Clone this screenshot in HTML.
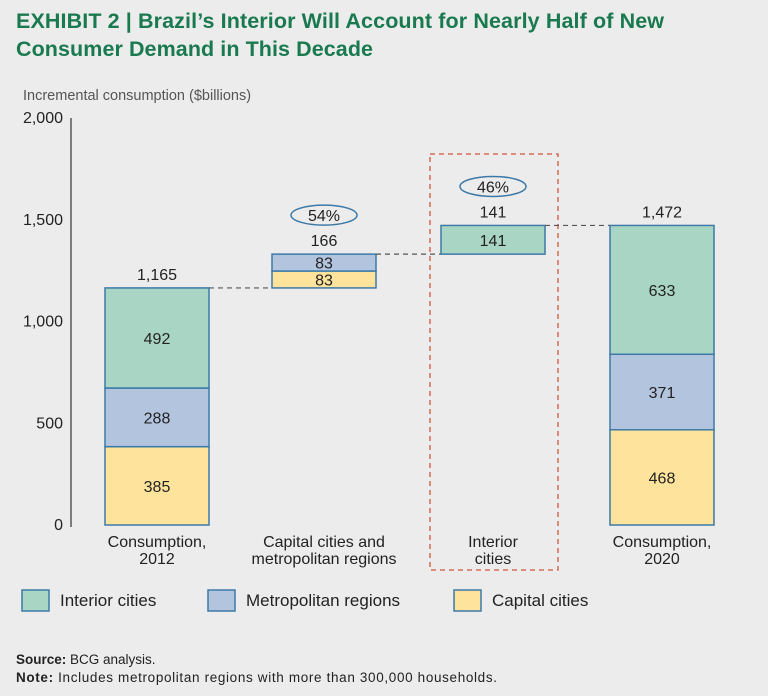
<!DOCTYPE html>
<html><head><meta charset="utf-8"><style>
body{margin:0;background:#ececec;font-family:"Liberation Sans",sans-serif;}
#wrap{position:relative;width:768px;height:696px;background:#ececec;overflow:hidden}
</style></head><body>
<div id="wrap">
<svg id="chart" width="768" height="696" xmlns="http://www.w3.org/2000/svg">
<text x="16" y="28" font-size="21.5" font-weight="bold" fill="#1a7a4f" textLength="648">EXHIBIT 2 | Brazil’s Interior Will Account for Nearly Half of New</text>
<text x="16" y="56" font-size="21.5" font-weight="bold" fill="#1a7a4f" textLength="357">Consumer Demand in This Decade</text>
<text x="23" y="100" font-size="14.5" fill="#555">Incremental consumption ($billions)</text>
<g id="axis"></g><g id="bars"></g>
<text x="16" y="664" font-size="13.5" fill="#222"><tspan font-weight="bold">Source:</tspan> BCG analysis.</text>
<text x="16" y="682" font-size="13.5" fill="#222" textLength="481"><tspan font-weight="bold">Note:</tspan> Includes metropolitan regions with more than 300,000 households.</text>
</svg>
</div>
<script>
const categories=["Consumption,|2012","Capital cities and|metropolitan regions","Interior|cities","Consumption,|2020"];
const capital=[385,83,0,468];
const metro=[288,83,0,371];
const interior=[492,0,141,633];
const totals=[1165,166,141,1472];
const shares=["","54%","46%",""];
const yTicks=[0,500,1000,1500,2000];
const yTickLabels=["0","500","1,000","1,500","2,000"];
const legendLabels=["Interior cities","Metropolitan regions","Capital cities"];
const NS="http://www.w3.org/2000/svg";
const y0=525,y1=118,vmax=2000;
function y(v){return y0-(v/vmax)*(y0-y1);}
const barX=[105,272,441,610],barW=104;
const colors={interior:"#a9d5c4",metro:"#b3c4df",capital:"#fde39b"};
const stroke="#3d7aa8";
const FS=16;
function mk(tag,attrs,parent,text){const e=document.createElementNS(NS,tag);for(const k in attrs)e.setAttribute(k,attrs[k]);if(text!==undefined)e.textContent=text;parent.appendChild(e);return e;}
const ax=document.getElementById('axis'),bg=document.getElementById('bars');
let l=mk('line',{x1:71,x2:71,y1:y1,y2:y0+2,stroke:"#333","stroke-width":1.2},ax);


yTicks.forEach((t,i)=>{const tx=mk('text',{x:63,y:y(t)+5,"font-size":FS,"text-anchor":"end",fill:"#222"},ax,yTickLabels[i]);

});
let rb=mk('rect',{x:430,y:154,width:128,height:416,fill:"none",stroke:"#d0573a","stroke-width":1.3,"stroke-dasharray":"5,4"},bg);


const base=[0,totals[0],totals[0]+totals[1],0];
categories.forEach((c,i)=>{
  let b=base[i];
  const segs=[["capital",capital[i]],["metro",metro[i]],["interior",interior[i]]];
  segs.forEach(([k,v])=>{
    if(!v)return;
    const top=y(b+v),bot=y(b);
    const r=mk('rect',{x:barX[i],y:top,width:barW,height:bot-top,fill:colors[k],stroke:stroke,"stroke-width":1.5},bg);
    
    
    const t=mk('text',{x:barX[i]+barW/2,y:(top+bot)/2+6,"font-size":FS,"text-anchor":"middle",fill:"#222"},bg,String(v));
    
    
    b+=v;
  });
  const topY=y(base[i]+totals[i]);
  const tl=mk('text',{x:barX[i]+barW/2,y:topY-8,"font-size":FS,"text-anchor":"middle",fill:"#222"},bg,totals[i].toLocaleString('en-US'));
  
  
  if(shares[i]){
    const cy=topY-39;
    const e=mk('ellipse',{cx:barX[i]+barW/2,cy:cy,rx:33,ry:10,fill:"none",stroke:"#3d7aa8","stroke-width":1.5},bg);
    
    
    const st=mk('text',{x:barX[i]+barW/2,y:cy+6,"font-size":FS,"text-anchor":"middle",fill:"#222"},bg,shares[i]);
    
    
  }
  c.split('|').forEach((ln,j)=>{
    const ct=mk('text',{x:barX[i]+barW/2,y:547+j*17,"font-size":FS,"text-anchor":"middle",fill:"#222"},bg,ln);
    
    
  });
  if(i<categories.length-1){
    const lv=base[i]+totals[i];
    const cl=mk('line',{x1:barX[i]+barW,x2:barX[i+1],y1:y(lv),y2:y(lv),stroke:"#555","stroke-width":1.2,"stroke-dasharray":"5,4"},bg);
    
    
  }
});
const lx=[22,208,454],lc=[colors.interior,colors.metro,colors.capital];
legendLabels.forEach((lb,i)=>{
  const r=mk('rect',{x:lx[i],y:590,width:27,height:21,fill:lc[i],stroke:stroke,"stroke-width":1.5},bg);
  
  
  const t=mk('text',{x:lx[i]+38,y:606,"font-size":17,fill:"#222"},bg,lb);
  
  
});
</script>
</body></html>
